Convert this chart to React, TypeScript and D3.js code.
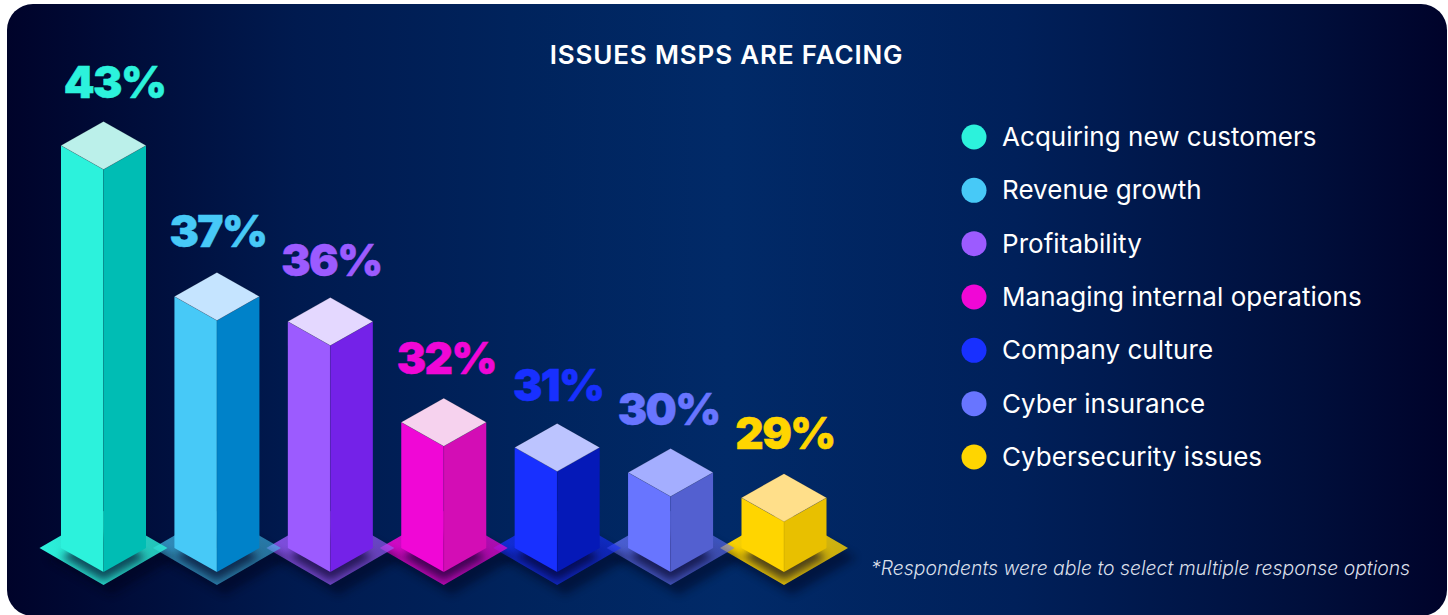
import React from 'react';
import * as d3 from 'd3';

const categories = [
  'Acquiring new customers',
  'Revenue growth',
  'Profitability',
  'Managing internal operations',
  'Company culture',
  'Cyber insurance',
  'Cybersecurity issues',
];
const values = [43, 37, 36, 32, 31, 30, 29];
const frontColors = ['#2cf2dc', '#47c9f7', '#9c5bff', '#f007d6', '#1830ff', '#6875ff', '#ffd500'];
const sideColors = ['#00bdb4', '#0082c9', '#7422e8', '#d30db5', '#0519b8', '#5360d0', '#e8c000'];
const topColors = ['#bbf0ea', '#c5e4ff', '#e4d8ff', '#f6d2ee', '#bcc4ff', '#a4aeff', '#ffdf8a'];

const width = 1448;
const height = 615;
const baseY = 572;
const halfW = 42.5;
const halfH = 24;
const plateW = 64;
const plateH = 37;
const labelFont = 'Inter, sans-serif';
const textFont = 'Inter, "Noto Sans", sans-serif';

const x = d3.scalePoint<string>().domain(categories).range([103.5, 784]);
// the picture's bars start well above zero, the baseline sits near 27%
const y = d3.scaleLinear().domain([27, 43]).range([baseY, 169.5]);
const legendY = d3.scalePoint<string>().domain(categories).range([137, 457]);
const poly = d3.line().curve(d3.curveLinearClosed);

const labelDx = [11, 1, 1, 2.5, 1, -2, 1];
const labelDy = [0, -1, 2, 0, 2, 0, -1];
const plateOpacity = [1, 0.68, 0.82, 0.88, 0.75, 0.72, 1];

export default function App() {
  const order = d3.range(categories.length);
  return (
    <svg
      width={width}
      height={height}
      viewBox={`0 0 ${width} ${height}`}
      style={{ position: 'absolute', left: 0, top: 0, display: 'block', background: '#fff' }}
    >
      <defs>
        <linearGradient id="bg" x1="0" x2="1" y1="0" y2="0">
          <stop offset="0" stopColor="#00032a" />
          <stop offset="0.2" stopColor="#001a4f" />
          <stop offset="0.35" stopColor="#00235c" />
          <stop offset="0.5" stopColor="#012a68" />
          <stop offset="0.7" stopColor="#00205a" />
          <stop offset="0.9" stopColor="#000f3c" />
          <stop offset="1" stopColor="#00032a" />
        </linearGradient>
        <filter id="blur" x="-40%" y="-40%" width="180%" height="180%">
          <feGaussianBlur stdDeviation="4.5" />
        </filter>
        {order.map(i => {
          const cx = x(categories[i])!;
          const my = baseY - halfH;
          return (
            <React.Fragment key={i}>
              <clipPath id={`plate-${i}`}>
                <path d={poly([[cx - plateW, my], [cx, my - plateH], [cx + plateW, my], [cx, my + plateH]])!} />
              </clipPath>
              <linearGradient id={`plate-fill-${i}`} x1="0" x2="1" y1="0" y2="0">
                <stop offset="0" stopColor={frontColors[i]} stopOpacity={plateOpacity[i]} />
                <stop offset="1" stopColor={frontColors[i]} stopOpacity={plateOpacity[i] * 0.78} />
              </linearGradient>
            </React.Fragment>
          );
        })}
      </defs>
      <rect x={7} y={4} width={1440} height={612} rx={26} fill="url(#bg)" />

      <text x={726.5} y={64} textAnchor="middle" fill="#fff" fontFamily={textFont} fontWeight={600} fontSize={26} letterSpacing={0.85}>
        ISSUES MSPS ARE FACING
      </text>

      {/* plates go right to left, a left plate's tip lies on top of its neighbour */}
      {order.slice().reverse().map(i => {
        const cx = x(categories[i])!;
        const my = baseY - halfH;
        const plate = poly([[cx - plateW, my], [cx, my - plateH], [cx + plateW, my], [cx, my + plateH]])!;
        const foot = poly([[cx - halfW, my + 9], [cx, my - halfH + 9], [cx + halfW, my + 9], [cx, my + halfH + 9]])!;
        return (
          <g key={i}>
            <path d={plate} fill="#000018" opacity={0.45} transform="translate(8,10)" filter="url(#blur)" />
            <path d={plate} fill={`url(#plate-fill-${i})`} />
            <g clipPath={`url(#plate-${i})`}>
              <path d={foot} fill="#000020" opacity={0.65} filter="url(#blur)" />
            </g>
          </g>
        );
      })}

      {order.map(i => {
        const cat = categories[i];
        const cx = x(cat)!;
        const top = y(values[i]);
        const bm = baseY - halfH;
        const tm = top - halfH;
        return (
          <g key={cat}>
            <path d={poly([[cx - halfW, tm], [cx, top], [cx, baseY], [cx - halfW, bm]])!} fill={frontColors[i]} />
            <path d={poly([[cx, top], [cx + halfW, tm], [cx + halfW, bm], [cx, baseY]])!} fill={sideColors[i]} />
            <path
              d={poly([[cx - halfW, tm], [cx, top - 2 * halfH], [cx + halfW, tm], [cx, top]])!}
              fill={topColors[i]}
              stroke="#000"
              strokeOpacity={0.2}
              strokeWidth={0.7}
            />
            <line x1={cx} x2={cx} y1={top} y2={baseY} stroke="#000" strokeOpacity={0.12} strokeWidth={0.8} />
            <text
              x={cx + labelDx[i]}
              y={top - 2 * halfH - 24 + labelDy[i]}
              textAnchor="middle"
              fill={frontColors[i]}
              stroke={frontColors[i]}
              strokeWidth={0.5}
              fontFamily={labelFont}
              fontWeight={900}
              fontSize={44}
              letterSpacing={-1.6}
            >
              {values[i]}%
            </text>
          </g>
        );
      })}

      {order.map(i => (
        <g key={categories[i]} transform={`translate(0,${legendY(categories[i])})`}>
          <circle cx={974} cy={0} r={12.5} fill={frontColors[i]} />
          <text x={1002} y={9} fill="#fff" fontFamily={textFont} fontSize={26} letterSpacing={0.05}>
            {categories[i]}
          </text>
        </g>
      ))}

      <text x={871} y={575} fill="#d9dfe9" fontFamily={textFont} fontStyle="italic" fontWeight={300} fontSize={19.4}>
        *Respondents were able to select multiple response options
      </text>
    </svg>
  );
}
